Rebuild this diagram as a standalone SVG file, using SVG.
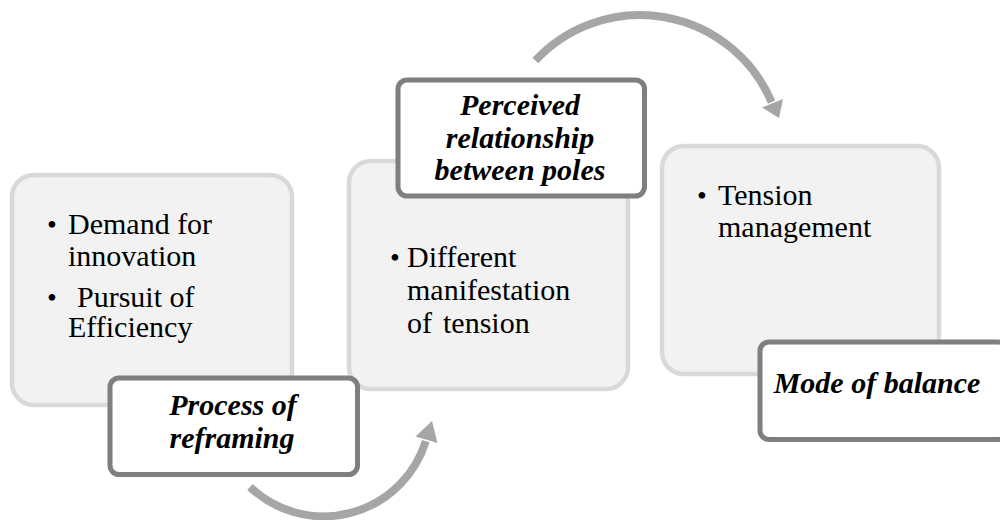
<svg xmlns="http://www.w3.org/2000/svg" width="1000" height="520" viewBox="0 0 1000 520">
  <rect width="1000" height="520" fill="#ffffff"/>

  <!-- stage 1 -->
  <g id="stage-demand">
    <rect x="12" y="175" width="280" height="230" rx="22" fill="#f2f2f2" stroke="#d9d9d9" stroke-width="4.5"/>
    <text x="47" y="234" font-size="28" font-family="Liberation Serif">•</text>
    <text x="68" y="234" font-size="30" font-family="Liberation Serif">Demand for</text>
    <text x="68" y="266" font-size="30" font-family="Liberation Serif">innovation</text>
    <text x="47" y="307" font-size="28" font-family="Liberation Serif">•</text>
    <text x="77" y="307" font-size="30" font-family="Liberation Serif">Pursuit of</text>
    <text x="68" y="337" font-size="30" font-family="Liberation Serif">Efficiency</text>
  </g>

  <!-- stage 2 -->
  <g id="stage-manifestation">
    <rect x="349" y="161" width="279" height="228" rx="22" fill="#f2f2f2" stroke="#d9d9d9" stroke-width="4.5"/>
    <text x="390" y="267" font-size="28" font-family="Liberation Serif">•</text>
    <text x="407" y="267" font-size="30" font-family="Liberation Serif">Different</text>
    <text x="407" y="300" font-size="30" font-family="Liberation Serif">manifestation</text>
    <text x="407" y="333" font-size="30" font-family="Liberation Serif">of</text>
    <text x="443" y="333" font-size="30" font-family="Liberation Serif">tension</text>
  </g>

  <!-- stage 3 -->
  <g id="stage-management">
    <rect x="662" y="146" width="277" height="228" rx="22" fill="#f2f2f2" stroke="#d9d9d9" stroke-width="4.5"/>
    <text x="697" y="205" font-size="28" font-family="Liberation Serif">•</text>
    <text x="718" y="205" font-size="30" font-family="Liberation Serif">Tension</text>
    <text x="718" y="237" font-size="30" font-family="Liberation Serif">management</text>
  </g>

  <!-- transition arrows -->
  <g id="connectors" fill="#a6a6a6">
    <path d="M 250,487 A 107 107 0 0 0 425.8,441.1" fill="none" stroke="#a6a6a6" stroke-width="8"/>
    <polygon points="432,421 437.5,443 415.5,436.5"/>
    <path d="M 535.4,60.5 A 143 143 0 0 1 771.6,102.1" fill="none" stroke="#a6a6a6" stroke-width="8"/>
    <polygon points="779,118 762,107.5 783,99"/>
  </g>

  <!-- transition labels -->
  <g id="label-reframing">
    <rect x="110" y="378" width="247.5" height="96.5" rx="9" fill="#ffffff" stroke="#7f7f7f" stroke-width="5"/>
    <text x="233" y="415" font-size="30" font-family="Liberation Serif" font-weight="bold" font-style="italic" text-anchor="middle">Process of</text>
    <text x="232" y="448" font-size="30" font-family="Liberation Serif" font-weight="bold" font-style="italic" text-anchor="middle">reframing</text>
  </g>

  <g id="label-relationship">
    <rect x="398" y="80" width="246.5" height="116" rx="9" fill="#ffffff" stroke="#7f7f7f" stroke-width="5"/>
    <text x="520" y="115" font-size="30" font-family="Liberation Serif" font-weight="bold" font-style="italic" text-anchor="middle">Perceived</text>
    <text x="520" y="148" font-size="30" font-family="Liberation Serif" font-weight="bold" font-style="italic" text-anchor="middle">relationship</text>
    <text x="520" y="180" font-size="30" font-family="Liberation Serif" font-weight="bold" font-style="italic" text-anchor="middle">between poles</text>
  </g>

  <g id="label-balance">
    <rect x="760" y="342" width="247" height="97.5" rx="9" fill="#ffffff" stroke="#7f7f7f" stroke-width="5"/>
    <text x="877" y="393" font-size="30" font-family="Liberation Serif" font-weight="bold" font-style="italic" text-anchor="middle">Mode of balance</text>
  </g>
</svg>
